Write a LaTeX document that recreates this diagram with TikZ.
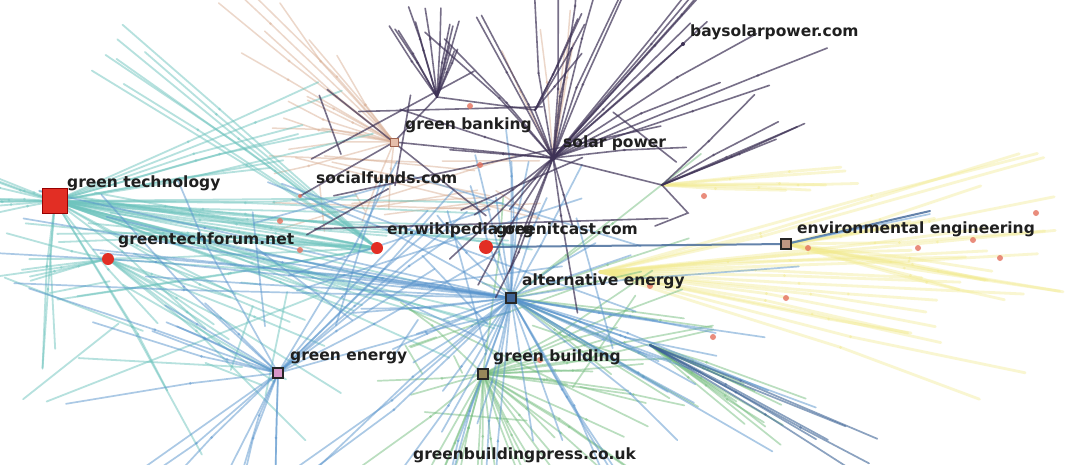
\documentclass[tikz,border=0pt]{standalone}
\usepackage{fontspec}
\newfontfamily\lblfont{DejaVu Sans}
\definecolor{tealc}{RGB}{110,196,190}
\definecolor{bluec}{RGB}{88,148,205}
\definecolor{steelc}{RGB}{62,100,150}
\definecolor{greenc}{RGB}{118,190,128}
\definecolor{purc}{RGB}{62,50,86}
\definecolor{tanc}{RGB}{218,176,150}
\definecolor{yelc}{RGB}{242,234,140}
\definecolor{redc}{RGB}{226,46,36}
\definecolor{salc}{RGB}{228,112,92}
\newcommand\fan[8]{%
 \foreach \k in {1,...,#2}{%
  \pgfmathsetmacro\ang{(#3)+rnd*((#4)-(#3))}%
  \pgfmathsetmacro\len{(#5)+rnd*((#6)-(#5))}%
  \pgfmathsetmacro\fr{0.35+0.4*rnd}%
  \pgfmathsetmacro\kn{(rnd-0.5)*2*(#8)}%
  \pgfmathsetmacro\la{\fr*\len}%
  \pgfmathsetmacro\lb{(1-\fr)*\len}%
  \pgfmathsetmacro\ab{\ang+\kn}%
  \draw[#7] (#1) -- ++(\ang:\la) coordinate (kk) -- ++(\ab:\lb);
  \fill[#7,fill opacity=.5] (kk) circle (1.5);
 }}
\newcommand\mesh[6]{%
 \foreach \k in {1,...,#1}{%
  \pgfmathsetmacro\xa{(#2)+rnd*((#3)-(#2))}%
  \pgfmathsetmacro\ya{(#4)+rnd*((#5)-(#4))}%
  \pgfmathsetmacro\xb{(#2)+rnd*((#3)-(#2))}%
  \pgfmathsetmacro\yb{(#4)+rnd*((#5)-(#4))}%
  \draw[#6] (\xa,\ya) coordinate (ma) -- (\xb,\yb) coordinate (mb);
 }}
\tikzset{
 tl/.style={color=tealc,line width=1.8pt,draw opacity=.5,line cap=round},
 bl/.style={color=bluec,line width=1.7pt,draw opacity=.5,line cap=round},
 st/.style={color=steelc,line width=1.7pt,draw opacity=.6,line cap=round},
 gl/.style={color=greenc,line width=1.7pt,draw opacity=.5,line cap=round},
 pl/.style={color=purc,line width=1.6pt,draw opacity=.7,line cap=round},
 tn/.style={color=tanc,line width=1.5pt,draw opacity=.5,line cap=round},
 yl/.style={color=yelc,line width=2.8pt,draw opacity=.4,line cap=round},
 lbl/.style={font=\lblfont\bfseries\fontsize{15.5}{17}\selectfont,text=black!88,anchor=west,inner sep=0pt},
 bigsq/.style={draw=red!60!black,fill=redc,minimum size=25pt,inner sep=0pt,line width=.8pt},
 sq/.style={draw=black!85,minimum size=10pt,inner sep=0pt,line width=1.4pt},
 rdot/.style={circle,fill=redc,draw=none,minimum size=12pt,inner sep=0pt},
 sdot/.style={circle,fill=salc,draw=none,minimum size=6pt,inner sep=0pt,opacity=.8},
 pdot/.style={circle,fill=purc,draw=none,minimum size=6pt,inner sep=0pt}
}
\begin{document}
\begin{tikzpicture}[x=1pt,y=-1pt]
\useasboundingbox (0,0) rectangle (1069,464);
\fill[white] (0,0) rectangle (1069,464);
\coordinate (gt) at (55,201);
\coordinate (gtf) at (108,259);
\coordinate (sf) at (300,196);
\coordinate (wiki) at (377,248);
\coordinate (gic) at (486,247);
\coordinate (ae) at (511,298);
\coordinate (ge) at (278,373);
\coordinate (gb) at (483,374);
\coordinate (gbk) at (394,142);
\coordinate (sp) at (553,158);
\coordinate (bsp) at (683,44);
\coordinate (ee) at (786,244);
\coordinate (top) at (437,97);
\coordinate (p2) at (535,110);
\coordinate (p3) at (662,185);
\coordinate (yh) at (600,272);
\coordinate (gr) at (650,345);
\pgfmathsetseed{4711}
\begin{scope}
\clip (0,0) rectangle (1069,464);
% yellow
\fan{yh}{20}{-16}{18}{300}{470}{yl}{4}
\fan{ee}{12}{-18}{16}{120}{290}{yl}{4}
\fan{p3}{6}{-25}{5}{100}{200}{yl}{3}
% tan
\fan{gbk}{10}{-155}{-85}{90}{250}{tn}{8}
\fan{gbk}{8}{95}{200}{60}{160}{tn}{10}
\fan{sp}{5}{-120}{-80}{90}{150}{tn}{6}
\mesh{14}{250}{560}{140}{240}{tn}
% teal
\fan{gt}{10}{155}{205}{60}{90}{tl}{3}
\fan{gt}{8}{-25}{-5}{180}{360}{tl}{5}
\fan{gt}{24}{-2}{20}{280}{480}{tl}{5}
\fan{gt}{6}{25}{60}{150}{300}{tl}{8}
\fan{gt}{3}{70}{100}{100}{200}{tl}{10}
\fan{wiki}{7}{205}{222}{280}{340}{tl}{3}
\fan{wiki}{12}{168}{192}{250}{380}{tl}{5}
\fan{gtf}{8}{-10}{40}{100}{300}{tl}{6}
\fan{gtf}{5}{160}{200}{80}{120}{tl}{4}
\mesh{12}{0}{320}{230}{420}{tl}
% green
\fan{gb}{26}{-160}{200}{80}{240}{gl}{8}
\fan{gb}{8}{60}{110}{90}{140}{gl}{4}
\fan{gr}{10}{15}{45}{80}{180}{gl}{4}
\fan{ae}{10}{-40}{60}{120}{240}{gl}{6}
\mesh{12}{380}{650}{280}{430}{gl}
% blue
\fan{ae}{20}{-30}{90}{100}{330}{bl}{8}
\fan{ae}{20}{90}{210}{100}{330}{bl}{8}
\fan{ae}{10}{-150}{-30}{100}{180}{bl}{8}
\fan{ae}{8}{172}{196}{350}{520}{bl}{4}
\fan{ge}{18}{90}{250}{100}{300}{bl}{8}
\fan{ge}{9}{-60}{-15}{150}{260}{bl}{6}
\fan{gr}{6}{20}{32}{180}{250}{st}{2}
\mesh{16}{250}{650}{170}{360}{bl}
% purple
\fan{top}{13}{-135}{-60}{40}{95}{pl}{4}
\fan{p2}{4}{-70}{-40}{70}{110}{pl}{3}
\fan{sp}{16}{180}{360}{90}{240}{pl}{8}
\fan{sp}{8}{-55}{-15}{160}{300}{pl}{4}
\fan{sp}{8}{60}{150}{60}{180}{pl}{8}
\fan{p3}{5}{-50}{-20}{100}{160}{pl}{3}
\mesh{10}{300}{680}{60}{240}{pl}
\draw[pl] (top) -- (gbk) -- (sf);
\draw[pl] (top) -- (p2) -- (sp) -- (p3);
\draw[pl] (gbk) -- (sp);
\draw[pl] (p3) -- (688,213) -- (655,226);
\draw[pl] (sp) -- (bsp);
% dark blue line through environmental engineering
\draw[st,line width=2pt,draw opacity=.8] (gic) -- (ee) -- (930,211);
\draw[bl] (ee) -- (930,214);
% small dots
\foreach \p in {(280,221),(470,106),(480,165),(786,298),(808,248),(918,248),(1000,258),(973,240),(1036,213),(713,337),(650,286),(704,196),(540,360),(300,250)}
  \node[sdot] at \p {};
\end{scope}
% nodes
\node[bigsq] (ngt) at (gt) {};
\node[rdot] (ngtf) at (gtf) {};
\node[rdot] (nwiki) at (wiki) {};
\node[rdot,minimum size=14pt] (ngic) at (gic) {};
\node[sq,fill=steelc] (nae) at (ae) {};
\node[sq,fill={rgb,255:red,215;green,150;blue,200}] (nge) at (ge) {};
\node[sq,fill={rgb,255:red,150;green,135;blue,90}] (ngb) at (gb) {};
\node[sq,fill={rgb,255:red,190;green,150;blue,130}] (nee) at (ee) {};
\node[sq,draw={rgb,255:red,160;green,100;blue,80},fill={rgb,255:red,230;green,190;blue,170},line width=1pt,minimum size=8pt] (ngbk) at (gbk) {};
\node[pdot] (nsp) at (sp) {};
\node[pdot,minimum size=4pt] (nbsp) at (bsp) {};
\node[sdot,minimum size=4pt] (nsf) at (sf) {};
% labels
\node[lbl] at (67,183) {green technology};
\node[lbl] at (118,240) {greentechforum.net};
\node[lbl] at (316,178) {socialfunds.com};
\node[lbl] at (405,125) {green banking};
\node[lbl] at (563,143) {solar power};
\node[lbl] at (690,32) {baysolarpower.com};
\node[lbl] at (387,230) {en.wikipedia.org};
\node[lbl] at (496,230) {greenitcast.com};
\node[lbl] at (522,281) {alternative energy};
\node[lbl] at (797,229) {environmental engineering};
\node[lbl] at (290,358) {green energy};
\node[lbl] at (493,357) {green building};
\node[lbl] at (413,455) {greenbuildingpress.co.uk};
\end{tikzpicture}
\end{document}
